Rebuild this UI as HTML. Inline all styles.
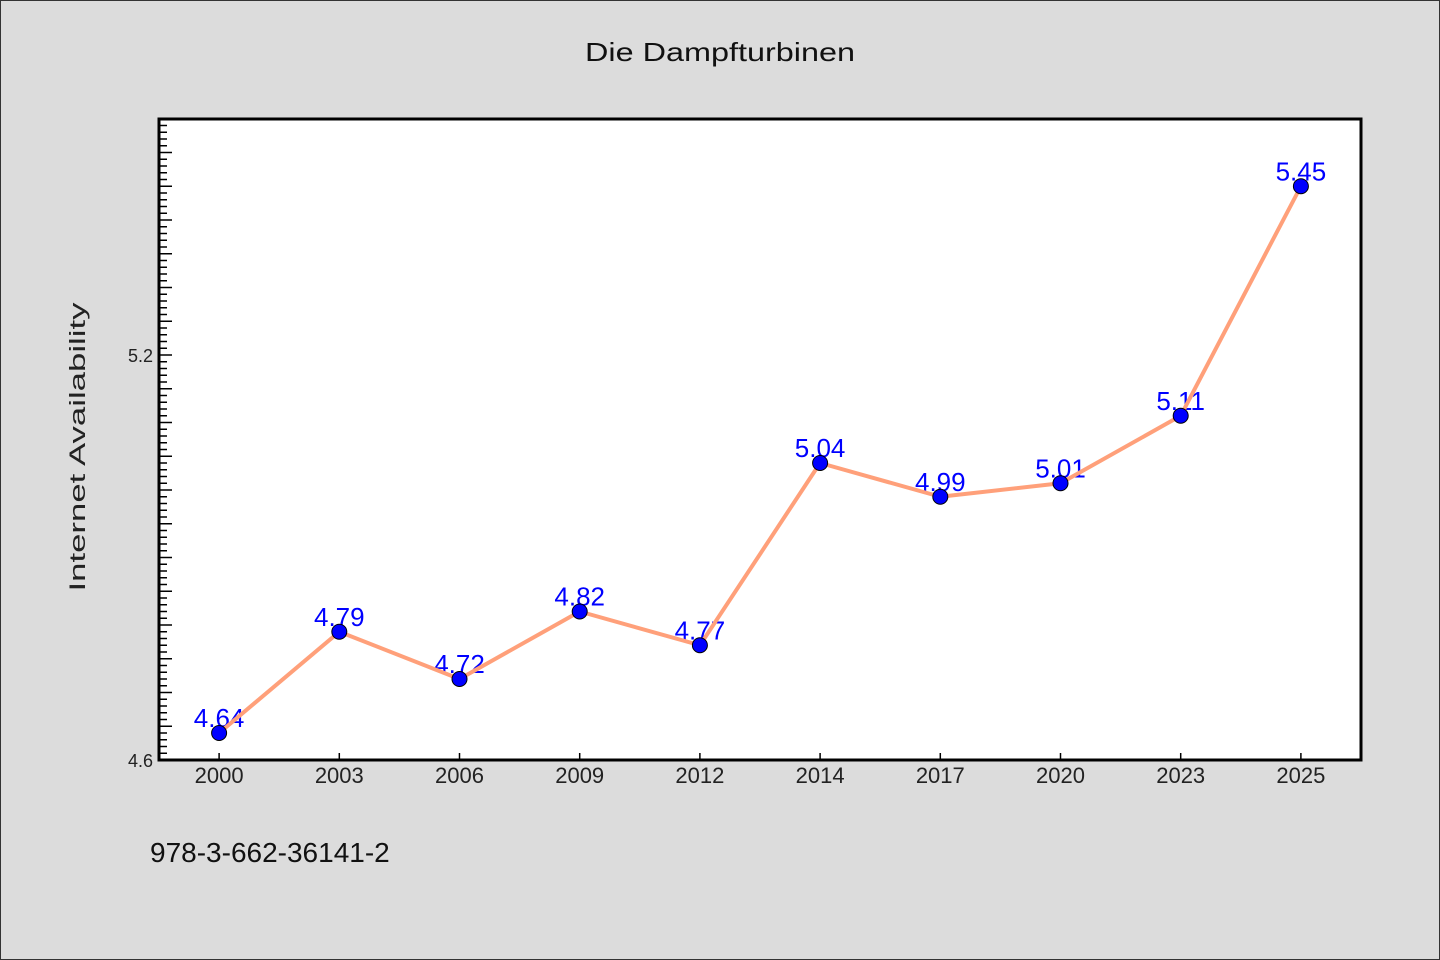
<!DOCTYPE html>
<html><head><meta charset="utf-8"><style>
html,body{margin:0;padding:0;background:#dcdcdc;}
svg{display:block;}
text{font-family:"WenQuanYi Zen Hei Mono","WenQuanYi Zen Hei","Liberation Sans",sans-serif;}
</style></head><body>
<svg id="chart" width="1440" height="960" xmlns="http://www.w3.org/2000/svg">
<rect x="0.5" y="0.5" width="1439" height="959" fill="#dcdcdc" stroke="#333" stroke-width="1"/>
<text x="720" y="61" text-anchor="middle" font-size="26" textLength="270" lengthAdjust="spacingAndGlyphs" fill="#111">Die Dampfturbinen</text>
<rect x="159" y="119" width="1202" height="641" fill="#fff"/>
<g id="ticks"></g>
<g id="series"></g>
<rect x="159" y="119" width="1202" height="641" fill="none" stroke="#000" stroke-width="3"/>
<text transform="translate(85,447) rotate(-90)" text-anchor="middle" font-size="22" textLength="289" lengthAdjust="spacingAndGlyphs" fill="#222">Internet Availability</text>
<text x="150" y="862" font-size="28" fill="#111">978-3-662-36141-2</text>
</svg>
<script>
const categories = ["2000","2003","2006","2009","2012","2014","2017","2020","2023","2025"];
const values = [4.64,4.79,4.72,4.82,4.77,5.04,4.99,5.01,5.11,5.45];
const valueLabels = ["4.64","4.79","4.72","4.82","4.77","5.04","4.99","5.01","5.11","5.45"];
const yTickLabels = ["4.6","5.2"];
const yTickValues = [4.6,5.2];

const NS="http://www.w3.org/2000/svg";
const L=159,R=1361,T=119,B=760,yMin=4.6,yMax=4.6+(B-T)/675;
function x(i){const bw=(R-L)/categories.length;return L+bw*(i+0.5);}
function y(v){return B-(v-yMin)/(yMax-yMin)*(B-T);}
function mk(tag,attrs,parent){const e=document.createElementNS(NS,tag);for(const k in attrs)e.setAttribute(k,attrs[k]);parent.appendChild(e);return e;}
const tg=document.getElementById('ticks');
// minor/major y ticks
for(let k=0;;k++){const v=yMin+k*0.01;if(v>yMax+1e-9)break;const yy=y(v);const major=(k%5===0);
 const t=mk('line',{x1:L,x2:L+(major?13:8),y1:yy,y2:yy,stroke:'#000','stroke-width':1.5},tg);
 
 }
yTickValues.forEach((v,i)=>{const t=mk('text',{x:L-6,y:y(v)+7,'text-anchor':'end','font-size':18,fill:'#222'},tg);t.textContent=yTickLabels[i];
 
 });
categories.forEach((c,i)=>{const l=mk('line',{x1:x(i),x2:x(i),y1:B,y2:B-7,stroke:'#000','stroke-width':1.5},tg);
 
 
 const t=mk('text',{x:x(i),y:B+23,'text-anchor':'middle','font-size':22,fill:'#222'},tg);t.textContent=c;
 
 });
const sg=document.getElementById('series');
values.forEach((v,i)=>{const t=mk('text',{x:x(i),y:y(v)-6,'text-anchor':'middle','font-size':26,fill:'#0000ff'},sg);t.textContent=valueLabels[i];
 
 });
const pl=mk('polyline',{points:values.map((v,i)=>x(i)+','+y(v)).join(' '),fill:'none',stroke:'#ffa07a','stroke-width':4,'stroke-linejoin':'round'},sg);


values.forEach((v,i)=>{const c=mk('circle',{cx:x(i),cy:y(v),r:7.5,fill:'#0000ff',stroke:'#000','stroke-width':1},sg);
 
 });
</script>
</body></html>
